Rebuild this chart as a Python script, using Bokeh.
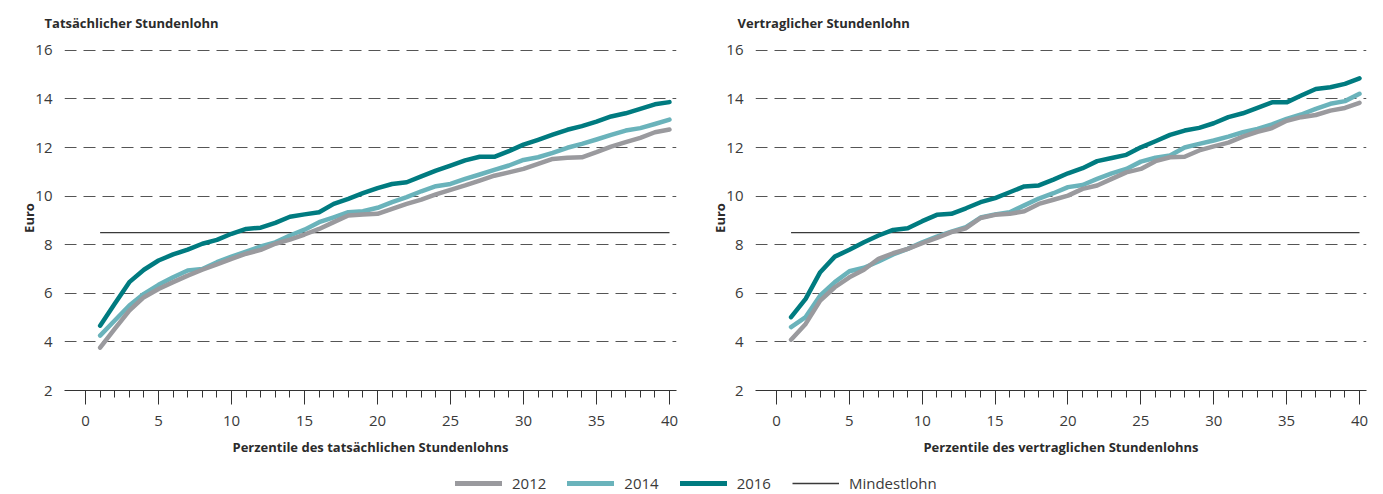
from bokeh.plotting import figure
from bokeh.layouts import column, row
from bokeh.models import FixedTicker, Range1d, Legend, LegendItem
from bokeh.embed import file_html
from bokeh.resources import INLINE

# ---------------- data ----------------
perzentile = list(range(1, 41))
mindestlohn = 8.5

tat_2012 = [3.76, 4.54, 5.29, 5.84, 6.18, 6.46, 6.73, 6.97, 7.19, 7.42,
            7.63, 7.79, 8.04, 8.21, 8.42, 8.65, 8.93, 9.20, 9.24, 9.27,
            9.48, 9.68, 9.86, 10.07, 10.26, 10.44, 10.64, 10.84, 10.98, 11.12,
            11.33, 11.53, 11.58, 11.60, 11.81, 12.04, 12.22, 12.40, 12.63, 12.74]
tat_2014 = [4.26, 4.88, 5.50, 5.98, 6.35, 6.66, 6.94, 7.00, 7.28, 7.51,
            7.72, 7.93, 8.10, 8.38, 8.62, 8.93, 9.13, 9.34, 9.38, 9.52,
            9.75, 9.96, 10.20, 10.41, 10.50, 10.71, 10.89, 11.08, 11.26, 11.49,
            11.60, 11.78, 11.99, 12.15, 12.33, 12.52, 12.70, 12.80, 12.97, 13.15]
tat_2016 = [4.67, 5.57, 6.46, 6.97, 7.35, 7.60, 7.80, 8.04, 8.20, 8.45,
            8.65, 8.70, 8.90, 9.15, 9.25, 9.34, 9.68, 9.89, 10.12, 10.33,
            10.50, 10.57, 10.81, 11.05, 11.26, 11.47, 11.62, 11.62, 11.85, 12.12,
            12.32, 12.53, 12.73, 12.88, 13.07, 13.28, 13.41, 13.59, 13.78, 13.87]

ver_2012 = [4.09, 4.74, 5.70, 6.25, 6.66, 6.97, 7.42, 7.65, 7.83, 8.06,
            8.28, 8.52, 8.68, 9.10, 9.23, 9.27, 9.38, 9.68, 9.85, 10.02,
            10.30, 10.44, 10.71, 10.98, 11.12, 11.44, 11.60, 11.62, 11.88, 12.05,
            12.20, 12.45, 12.65, 12.80, 13.10, 13.25, 13.34, 13.52, 13.63, 13.84]
ver_2014 = [4.61, 5.02, 5.91, 6.46, 6.91, 7.05, 7.31, 7.60, 7.83, 8.10,
            8.33, 8.54, 8.72, 9.12, 9.25, 9.34, 9.62, 9.90, 10.12, 10.37,
            10.46, 10.71, 10.94, 11.12, 11.42, 11.58, 11.67, 12.00, 12.15, 12.29,
            12.45, 12.63, 12.77, 12.95, 13.18, 13.36, 13.59, 13.80, 13.91, 14.21]
ver_2016 = [5.02, 5.77, 6.87, 7.51, 7.79, 8.10, 8.38, 8.61, 8.68, 8.97,
            9.23, 9.27, 9.50, 9.75, 9.92, 10.16, 10.40, 10.44, 10.68, 10.94,
            11.15, 11.44, 11.57, 11.70, 12.01, 12.26, 12.52, 12.70, 12.81, 13.00,
            13.25, 13.41, 13.63, 13.86, 13.86, 14.14, 14.41, 14.48, 14.62, 14.85]

y_ticks = [2, 4, 6, 8, 10, 12, 14, 16]
x_ticks = [0, 5, 10, 15, 20, 25, 30, 35, 40]
x_minor = list(range(0, 41))

series_labels = ["2012", "2014", "2016"]
colors = {"2012": "#9a9a9e", "2014": "#6ab3bb", "2016": "#007b80"}
ref_color = "#3a3a3a"
FONT = "Open Sans"
TXT = "#2b2b2b"


def make_panel(title, xlabel, s12, s14, s16, width, bl, br, toff):
    p = figure(width=width, height=470, x_range=Range1d(-1.44, 40.48),
               y_range=Range1d(2, 16.2), output_backend="svg",
               toolbar_location=None, min_border_left=bl, min_border_right=br,
               min_border_top=45, min_border_bottom=80)
    p.outline_line_color = None
    p.title.text = title
    p.title.text_font = FONT
    p.title.text_font_size = "13px"
    p.title.text_font_style = "bold"
    p.title.text_color = TXT
    p.title.align = "left"
    p.title.vertical_align = "top"
    p.title.offset = toff
    p.title.standoff = 24

    p.xgrid.visible = False
    p.ygrid.ticker = FixedTicker(ticks=y_ticks)
    p.ygrid.grid_line_color = "#555555"
    p.ygrid.grid_line_dash = "12 7"
    p.ygrid.grid_line_width = 1

    xa = p.xaxis[0]
    xa.ticker = FixedTicker(ticks=x_ticks, minor_ticks=x_minor)
    xa.axis_line_color = "#333333"
    xa.major_tick_line_color = "#333333"
    xa.minor_tick_line_color = "#333333"
    xa.major_tick_out = 14
    xa.major_tick_in = 0
    xa.minor_tick_out = 7
    xa.minor_tick_in = 0
    xa.major_label_standoff = 11
    xa.major_label_text_font = FONT
    xa.major_label_text_font_size = "15px"
    xa.major_label_text_color = "#3a3a3a"
    xa.axis_label = xlabel
    xa.axis_label_text_font = FONT
    xa.axis_label_text_font_size = "13px"
    xa.axis_label_text_font_style = "bold"
    xa.axis_label_text_color = TXT
    xa.axis_label_standoff = 9

    ya = p.yaxis[0]
    ya.ticker = FixedTicker(ticks=y_ticks)
    ya.axis_line_color = None
    ya.major_tick_line_color = None
    ya.minor_tick_line_color = None
    ya.major_label_standoff = 6
    ya.major_label_text_font = FONT
    ya.major_label_text_font_size = "15px"
    ya.major_label_text_color = "#3a3a3a"
    ya.axis_label = "Euro"
    ya.axis_label_text_font = FONT
    ya.axis_label_text_font_size = "13px"
    ya.axis_label_text_font_style = "bold"
    ya.axis_label_text_color = TXT
    ya.axis_label_standoff = -6

    p.line([perzentile[0], perzentile[-1]], [mindestlohn, mindestlohn],
           color=ref_color, line_width=1.3)
    for lab, s in (("2016", s16), ("2014", s14), ("2012", s12)):
        p.line(perzentile, s, color=colors[lab], line_width=4.5,
               line_cap="round", line_join="round")
    return p


p1 = make_panel("Tatsächlicher Stundenlohn",
                "Perzentile des tatsächlichen Stundenlohns",
                tat_2012, tat_2014, tat_2016, 696, 64, 20, -20)
p2 = make_panel("Vertraglicher Stundenlohn",
                "Perzentile des vertraglichen Stundenlohns",
                ver_2012, ver_2014, ver_2016, 686, 59, 16, -18)

lf = figure(width=1382, height=24, output_backend="svg", toolbar_location=None,
            x_range=Range1d(0, 1), y_range=Range1d(0, 1), min_border=0,
            x_axis_location=None, y_axis_location=None)
lf.outline_line_color = None
lf.grid.visible = False
items = []
for lab in series_labels:
    r = lf.line([0, 1], [-5, -5], color=colors[lab], line_width=5,
                line_cap="round")
    items.append(LegendItem(label=lab, renderers=[r]))
rm = lf.line([0, 1], [-5, -5], color=ref_color, line_width=1.3)
items.append(LegendItem(label="Mindestlohn", renderers=[rm]))
leg = Legend(items=items, orientation="horizontal", location=(455, 1),
             glyph_width=47, glyph_height=14, label_height=14,
             label_standoff=10, spacing=21, padding=0, margin=0,
             border_line_color=None, background_fill_alpha=0,
             label_text_font=FONT, label_text_font_size="15px",
             label_text_color="#3a3a3a")
lf.add_layout(leg)

layout = column(row(p1, p2), lf)
open("out.html", "w").write(file_html(layout, INLINE))
